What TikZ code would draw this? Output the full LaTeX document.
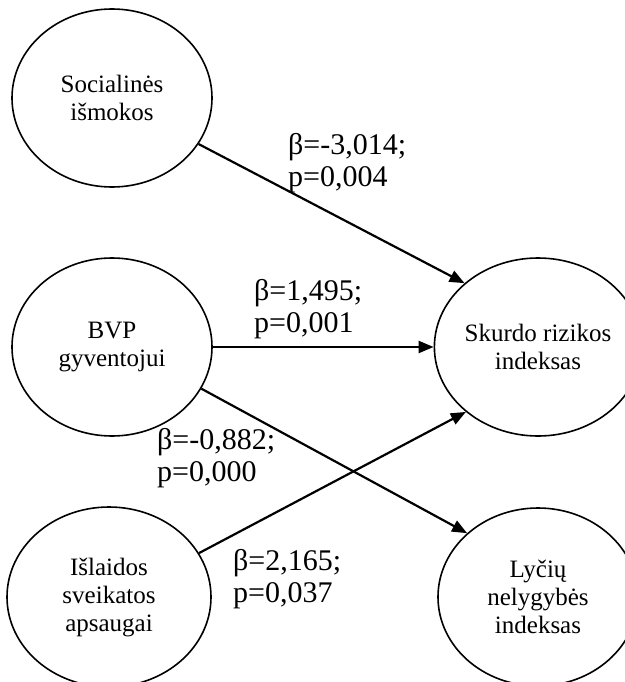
\documentclass[tikz,border=0pt]{standalone}
\usepackage{fontspec}
\setmainfont{Liberation Serif}
\usetikzlibrary{shapes.geometric,arrows.meta}
\begin{document}
\begin{tikzpicture}[x=1pt,y=-1pt,
  ell/.style={ellipse,draw,line width=1.6pt,minimum width=200pt,minimum height=178pt,inner sep=0pt,align=center,font=\fontsize{25}{28}\selectfont},
  lbl/.style={anchor=west,align=left,inner sep=0pt,font=\fontsize{30}{32.5}\selectfont},
  arr/.style={line width=2.2pt,-{Triangle[length=15pt,width=12pt]}}]
\useasboundingbox (0,0) rectangle (624,682);
\node[ell] (soc) at (112,98) {Socialinės\\išmokos};
\node[ell] (bvp) at (112,347) {BVP\\gyventojui};
\node[ell,minimum width=204pt,minimum height=180pt] (isl) at (109,597) {Išlaidos\\sveikatos\\apsaugai};
\node[ell] (sku) at (538,347) {Skurdo rizikos\\indeksas};
\node[ell] (lyc) at (538,597) {Lyčių\\nelygybės\\indeksas};
\draw[arr] (soc.-28.4) -- (sku.139.3);
\draw[arr] (bvp.0) -- (sku.180);
\draw[arr] (bvp.-25) -- (lyc.138.4);
\draw[arr] (isl.26) -- (sku.222);
\node[lbl] (l1) at (288,163) {β=-3,014;\\p=0,004};
\node[lbl] (l2) at (254,309) {β=1,495;\\p=0,001};
\node[lbl] (l3) at (157,458) {β=-0,882;\\p=0,000};
\node[lbl] (l4) at (233,579) {β=2,165;\\p=0,037};
\end{tikzpicture}
\end{document}
